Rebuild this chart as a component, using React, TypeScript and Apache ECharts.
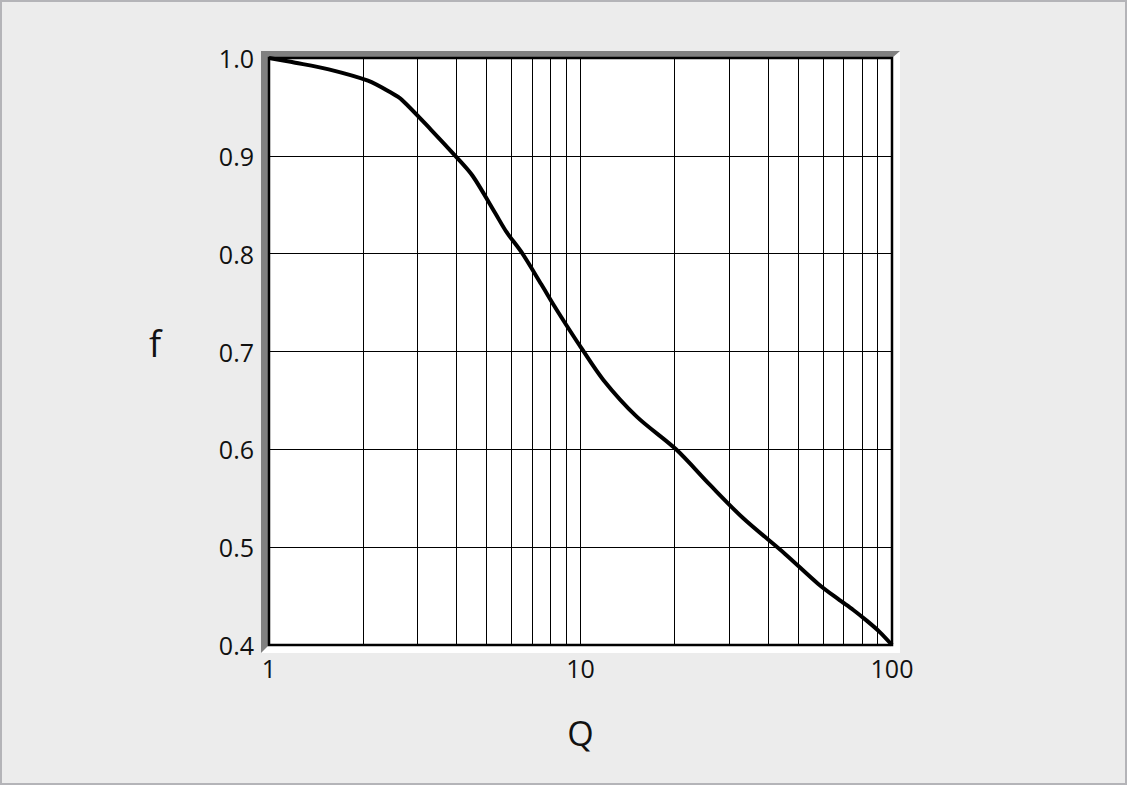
import React, { useEffect, useRef } from "react";
import * as echarts from "echarts";

// Curve f(Q)
const qValues = [
  1, 1.214, 1.555, 2.078, 2.483, 2.673, 3.319, 3.963, 4.508, 5.327, 5.777, 6.49,
  7.483, 8.24, 9.003, 9.911, 11.84, 15.15, 20.26, 26.05, 33.31, 45.36,
  57.98, 67.24, 75.13, 82.94, 91.03, 100,
];
const fValues = [
  1.0, 0.9952, 0.9884, 0.9768, 0.9639, 0.9571, 0.9264, 0.9, 0.8794, 0.8413, 0.8225, 0.8007,
  0.7687, 0.7465, 0.7271, 0.7067, 0.6709, 0.6334, 0.6, 0.5636, 0.5295, 0.4931,
  0.4624, 0.4468, 0.4358, 0.4249, 0.4137, 0.4,
];
// Minor vertical grid lines (log decades)
const minorGridQ = [2, 3, 4, 5, 6, 7, 8, 9, 20, 30, 40, 50, 60, 70, 80, 90];
const xName = "Q";
const yName = "f";
const yMin = 0.4;
const yMax = 1.0;
const yStep = 0.1;
const xMin = 1;
const xMax = 100;

const W = 1127;
const H = 785;
const GL = 269;
const GT = 58;
const GR = 892;
const GB = 645;
const FONT = "'Open Sans', 'Noto Sans', sans-serif";

export default function App() {
  const ref = useRef<HTMLDivElement>(null);
  useEffect(() => {
    if (!ref.current) return;
    const chart = echarts.init(ref.current, undefined, { renderer: "svg" });
    const bl = 8;
    const bt = 7;
    const option: any = {
      animation: false,
      backgroundColor: "#ececec",
      grid: {
        left: GL,
        top: GT,
        width: GR - GL,
        height: GB - GT,
        show: false,
      },
      graphic: [
        {
          type: "rect",
          silent: true,
          z: -10,
          shape: { x: 1, y: 1, width: W - 2, height: H - 2 },
          style: { fill: "none", stroke: "#b4b4b8", lineWidth: 2 },
        },
        {
          type: "polygon",
          silent: true,
          z: -5,
          shape: {
            points: [
              [GL - bl, GT - bt],
              [GR + bl, GT - bt],
              [GR + bl, GB + bl],
              [GL - bl, GB + bl],
            ],
          },
          style: { fill: "#ffffff" },
        },
        {
          type: "polygon",
          silent: true,
          z: -4,
          shape: {
            points: [
              [GL - bl, GT - bt],
              [GR + bl, GT - bt],
              [GR, GT],
              [GL, GT],
              [GL, GB],
              [GL - bl, GB + bl],
            ],
          },
          style: { fill: "#808080" },
        },
        {
          type: "rect",
          silent: true,
          z: 100,
          shape: { x: GL, y: GT, width: GR - GL, height: GB - GT },
          style: { fill: "none", stroke: "#000", lineWidth: 2.5 },
        },
        {
          type: "text",
          silent: true,
          z: 100,
          style: {
            text: yName,
            x: 155,
            y: 343,
            align: "center",
            verticalAlign: "middle",
            fontFamily: FONT,
            fontSize: 36,
            fill: "#111",
          },
        },
      ],
      xAxis: {
        type: "log",
        logBase: 10,
        min: xMin,
        max: xMax,
        name: xName,
        nameLocation: "middle",
        nameGap: 88,
        nameTextStyle: {
          fontFamily: FONT,
          fontSize: 34,
          color: "#111",
          align: "center",
          verticalAlign: "middle",
        },
        axisLine: { show: false },
        axisTick: { show: false },
        axisLabel: {
          margin: 10,
          fontFamily: FONT,
          fontSize: 25,
          color: "#111",
          showMinLabel: true,
          showMaxLabel: true,
        },
        splitLine: { show: true, lineStyle: { color: "#000", width: 1 } },
        minorSplitLine: { show: false },
      },
      yAxis: {
        type: "value",
        min: yMin,
        max: yMax,
        interval: yStep,
        axisLine: { show: false },
        axisTick: { show: false },
        axisLabel: {
          margin: 15,
          fontFamily: FONT,
          fontSize: 25,
          color: "#111",
          formatter: (v: number) => v.toFixed(1),
        },
        splitLine: { show: true, lineStyle: { color: "#000", width: 1 } },
      },
      series: [
        {
          type: "line",
          data: [],
          z: 2,
          silent: true,
          markLine: {
            silent: true,
            symbol: ["none", "none"],
            label: { show: false },
            lineStyle: { color: "#000", width: 1, type: "solid" },
            emphasis: { disabled: true },
            data: minorGridQ.map((q) => ({ xAxis: q })),
          },
        },
        {
          type: "line",
          data: qValues.map((q, i) => [q, fValues[i]]),
          z: 5,
          showSymbol: false,
          symbol: "none",
          smooth: 0.3,
          silent: true,
          lineStyle: { color: "#000", width: 4 },
        },
      ],
    };
    chart.setOption(option);
    return () => chart.dispose();
  }, []);
  return (
    <div
      ref={ref}
      style={{ position: "absolute", left: 0, top: 0, width: W, height: H }}
    />
  );
}
